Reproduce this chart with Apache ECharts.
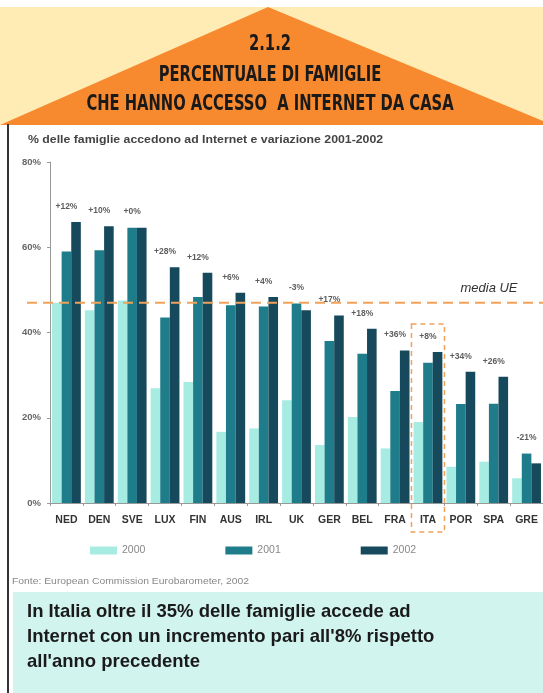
<!DOCTYPE html>
<html>
<head>
<meta charset="utf-8">
<script src="https://cdn.jsdelivr.net/npm/echarts@6/dist/echarts.min.js"></script>
<style>
  html, body { margin: 0; padding: 0; background: #fff; }
  #main { width: 543px; height: 693px; }
</style>
</head>
<body>
<div id="main"></div>
<script>
// paesi e valori (% famiglie con accesso a Internet)
var countries = ['NED', 'DEN', 'SVE', 'LUX', 'FIN', 'AUS', 'IRL', 'UK', 'GER', 'BEL', 'FRA', 'ITA', 'POR', 'SPA', 'GRE'];
var years = ['2000', '2001', '2002'];
var val2000 = [47, 45.2, 47.5, 26.9, 28.4, 16.7, 17.5, 24.1, 13.6, 20.2, 12.8, 19, 8.5, 9.7, 5.8];
var val2001 = [59, 59.3, 64.6, 43.5, 48.3, 46.4, 46.1, 46.8, 38, 35, 26.3, 32.9, 23.2, 23.3, 11.6];
var val2002 = [65.9, 64.9, 64.6, 55.3, 54, 49.3, 48.3, 45.2, 44, 40.9, 35.8, 35.4, 30.8, 29.6, 9.3];
// variazione 2001-2002
var changes = ['+12%', '+10%', '+0%', '+28%', '+12%', '+6%', '+4%', '-3%', '+17%', '+18%', '+36%', '+8%', '+34%', '+26%', '-21%'];
var mediaUE = 47;
var highlight = 'ITA';
var yTicks = [0, 20, 40, 60, 80];

var colors = ['#a6ece2', '#1f7d8b', '#16495b'];
var font = 'Arial, Liberation Sans, sans-serif';

var chart = echarts.init(document.getElementById('main'));

// etichette sopra la barra piu alta tra 2001 e 2002
var labelPos = countries.map(function (c, i) {
    return Math.max(val2001[i], val2002[i]);
});

function bar(name, data, idx) {
    return {
        name: name,
        type: 'bar',
        data: data,
        barWidth: 9.6,
        barGap: '0%',
        itemStyle: { color: colors[idx] },
        z: 3
    };
}

var option = {
    backgroundColor: '#ffffff',
    animation: false,
    grid: { left: 50, top: 162, width: 495, bottom: 190 },
    legend: {
        data: years,
        left: 85,
        top: 540,
        icon: 'rect',
        itemWidth: 27,
        itemHeight: 8,
        itemGap: 80,
        textStyle: { fontSize: 10.5, color: '#888', fontFamily: font }
    },
    xAxis: {
        type: 'category',
        data: countries,
        axisLine: { lineStyle: { color: '#999', width: 1 } },
        axisTick: { show: true, length: 3, lineStyle: { color: '#999' } },
        axisLabel: { color: '#333', fontSize: 10.5, fontWeight: 'bold', margin: 12, fontFamily: font, interval: 0 }
    },
    yAxis: {
        type: 'value',
        min: yTicks[0],
        max: yTicks[yTicks.length - 1],
        interval: 20,
        splitLine: { show: false },
        axisLine: { show: true, lineStyle: { color: '#999' } },
        axisTick: { show: true, length: 3, lineStyle: { color: '#999' } },
        axisLabel: { formatter: '{value}%', color: '#666', fontSize: 9.5, fontWeight: 'bold', margin: 9, fontFamily: font }
    },
    series: [
        bar(years[0], val2000, 0),
        bar(years[1], val2001, 1),
        bar(years[2], val2002, 2),
        {
            name: 'variazione',
            type: 'scatter',
            symbolSize: 0,
            data: labelPos,
            label: {
                show: true,
                position: 'top',
                distance: 11,
                color: '#333',
                fontSize: 8.5,
                fontWeight: 'bold',
                fontFamily: font,
                formatter: function (p) { return changes[p.dataIndex]; }
            },
            z: 5
        }
    ]
};
chart.setOption(option);

// elementi grafici: testata, linea media UE, riquadro ITA, note
var yMedia = chart.convertToPixel({ yAxisIndex: 0 }, mediaUE);
var hi = countries.indexOf(highlight);
var xHi = chart.convertToPixel({ xAxisIndex: 0 }, highlight);
var band = 495 / countries.length;
var yTopHi = chart.convertToPixel({ yAxisIndex: 0 }, Math.max(val2001[hi], val2002[hi])) - 28;
var y0 = chart.convertToPixel({ yAxisIndex: 0 }, 0);

var titleFont = "'Liberation Sans Narrow', 'DejaVu Sans Condensed', sans-serif";

function title(text, y) {
    return {
        type: 'text', x: 270, y: y, scaleX: 0.78,
        style: { text: text, fill: '#1a1a1a', font: 'bold 21px ' + titleFont, align: 'center', verticalAlign: 'middle' },
        z: 10
    };
}

chart.setOption({
    graphic: [
        { type: 'rect', shape: { x: 0, y: 7, width: 543, height: 118 }, style: { fill: '#ffebb4' }, z: -10 },
        { type: 'polygon', shape: { points: [[0, 125], [268, 7], [543, 121], [543, 125]] }, style: { fill: '#f7892f' }, z: -9 },
        title('2.1.2', 45),
        title('PERCENTUALE DI FAMIGLIE', 76),
        title('CHE HANNO ACCESSO  A INTERNET DA CASA', 105),
        { type: 'rect', shape: { x: 7, y: 124, width: 2, height: 569 }, style: { fill: '#333' }, z: 10 },
        { type: 'text', x: 28, y: 140, scaleX: 1.17, style: { text: '% delle famiglie accedono ad Internet e variazione 2001-2002', fill: '#444', font: 'bold 10.5px ' + font, verticalAlign: 'middle' }, z: 10 },
        { type: 'line', shape: { x1: 27, y1: yMedia, x2: 543, y2: yMedia }, style: { stroke: '#f0a25a', lineWidth: 2, lineDash: [10, 6] }, z: 20 },
        { type: 'text', x: 489, y: yMedia - 14, style: { text: 'media UE', fill: '#333', font: 'italic 13px ' + font, align: 'center', verticalAlign: 'middle' }, z: 20 },
        { type: 'rect', shape: { x: xHi - band / 2, y: yTopHi, width: band, height: y0 + 29 - yTopHi }, style: { fill: 'none', stroke: '#f0a25a', lineWidth: 1.5, lineDash: [5, 4] }, z: 20 },
        { type: 'text', x: 12, y: 582, scaleX: 1.15, style: { text: 'Fonte: European Commission Eurobarometer, 2002', fill: '#888', font: '9px ' + font, verticalAlign: 'middle' }, z: 10 },
        { type: 'rect', shape: { x: 13, y: 592, width: 530, height: 101 }, style: { fill: '#d2f4ee' }, z: 5 },
        { type: 'text', x: 27, y: 612, style: { text: 'In Italia oltre il 35% delle famiglie accede ad', fill: '#1a1a1a', font: 'bold 18.5px ' + font, verticalAlign: 'middle' }, z: 10 },
        { type: 'text', x: 27, y: 637, style: { text: "Internet con un incremento pari all'8% rispetto", fill: '#1a1a1a', font: 'bold 18.5px ' + font, verticalAlign: 'middle' }, z: 10 },
        { type: 'text', x: 27, y: 662, style: { text: "all'anno precedente", fill: '#1a1a1a', font: 'bold 18.5px ' + font, verticalAlign: 'middle' }, z: 10 }
    ]
});
</script>
</body>
</html>
